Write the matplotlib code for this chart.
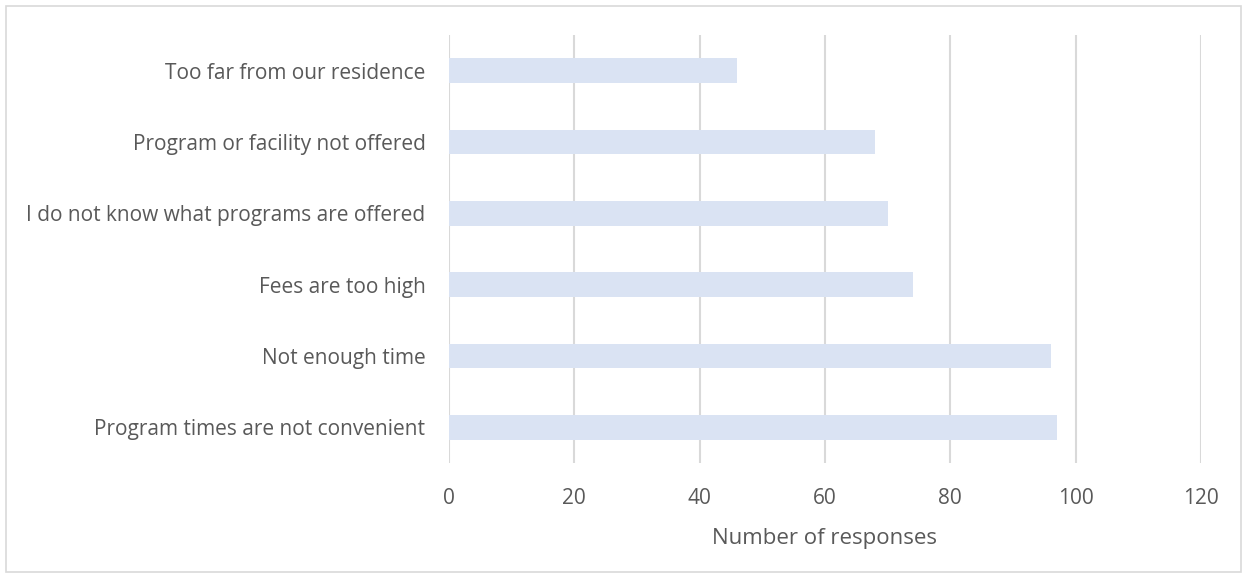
import matplotlib.pyplot as plt
from matplotlib.patches import Rectangle

# Data (top to bottom as shown in the chart)
reasons = [
    'Too far from our residence',
    'Program or facility not offered',
    'I do not know what programs are offered',
    'Fees are too high',
    'Not enough time',
    'Program times are not convenient',
]
responses = [46, 68, 70, 74, 96, 97]
x_ticks = [0, 20, 40, 60, 80, 100, 120]

text_color = '#595959'
bar_color = '#DAE3F3'
grid_color = '#D9D9D9'

plt.rcParams['font.family'] = ['Open Sans', 'DejaVu Sans']

fig = plt.figure(figsize=(12.47, 5.78), dpi=100)
ax = fig.add_axes([449 / 1247, 1 - 463 / 578, (1201 - 449) / 1247, (463 - 35) / 578])

# Bars, first category at top
y_pos = list(range(len(reasons)))[::-1]
ax.barh(y_pos, responses, height=0.35, color=bar_color, zorder=2)

ax.set_xlim(0, 120)
ax.set_ylim(-0.5, len(reasons) - 0.5)
ax.set_xticks(x_ticks)
ax.set_xticklabels([str(t) for t in x_ticks])
ax.set_yticks(y_pos)
ax.set_yticklabels(reasons)

# Gridlines
ax.grid(axis='x', color=grid_color, linewidth=1.5, zorder=0)
ax.set_axisbelow(True)
for side in ['top', 'right', 'bottom', 'left']:
    ax.spines[side].set_visible(False)
ax.tick_params(axis='both', length=0, labelsize=15, colors=text_color)
ax.tick_params(axis='x', pad=18)
ax.tick_params(axis='y', pad=17)

ax.set_xlabel('Number of responses', fontsize=16, color=text_color, labelpad=14)

# Light border around the chart area
fig.patches.append(Rectangle((6 / 1247, 6 / 578), 1 - 12 / 1247, 1 - 12 / 578,
                             transform=fig.transFigure, fill=False,
                             edgecolor=grid_color, linewidth=1.2))

fig.savefig('out.png', dpi=100)
